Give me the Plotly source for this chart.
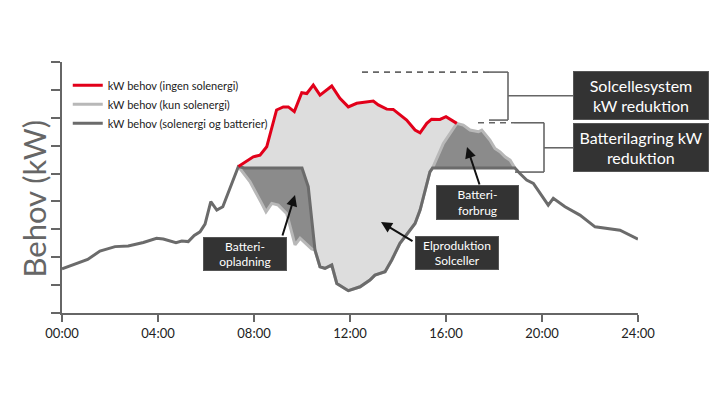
import plotly.graph_objects as go

# ---------------- data (hours, kW units) ----------------
dark_t = [0, 1.07, 1.58, 2.21, 2.76, 3.39, 3.94, 4.22, 4.75, 4.99, 5.26, 5.51, 5.75, 5.96,
          6.20, 6.45, 6.70, 7.35, 7.60, 10.0, 10.26, 10.54, 10.75, 10.96, 11.24, 11.45, 11.93,
          12.42, 12.83, 13.04, 13.46, 13.74, 14.08, 14.36, 14.71, 14.92, 15.13, 15.33, 15.44,
          18.87, 19.08, 19.36, 19.64, 19.99, 20.26, 20.47, 20.96, 21.58, 22.21, 23.25, 24.0]
dark_v = [1.58, 1.92, 2.22, 2.38, 2.40, 2.53, 2.68, 2.65, 2.52, 2.58, 2.56, 2.78, 2.91, 3.19,
          3.99, 3.69, 3.81, 5.25, 5.20, 5.20, 4.53, 2.26, 1.66, 1.60, 1.72, 1.06, 0.80,
          0.94, 1.18, 1.36, 1.48, 1.90, 2.50, 2.80, 3.21, 3.69, 4.41, 5.06, 5.20,
          5.20, 5.00, 4.77, 4.65, 4.23, 3.87, 4.11, 3.81, 3.51, 3.09, 2.97, 2.65]

red_t = [7.35, 7.97, 8.25, 8.53, 8.94, 9.22, 9.43, 9.68, 9.99, 10.20, 10.47, 10.75, 11.24,
         11.58, 11.93, 12.28, 12.97, 13.18, 13.53, 13.80, 14.36, 14.71, 14.92, 15.20, 15.40,
         15.75, 16.00, 16.45]
red_v = [5.25, 5.60, 5.66, 5.96, 7.28, 7.39, 7.39, 7.22, 7.90, 7.87, 8.17, 7.81, 8.14,
         7.70, 7.39, 7.52, 7.60, 7.46, 7.31, 7.30, 6.92, 6.56, 6.46, 6.80, 6.95,
         6.94, 7.04, 6.80]

light_t = [7.35, 7.83, 8.32, 8.50, 8.74, 9.01, 9.36, 9.71, 9.92, 10.40, 10.54, 10.75, 10.96,
           11.24, 11.45, 11.93, 12.42, 12.83, 13.04, 13.46, 13.74, 14.08, 14.36, 14.71, 14.92,
           15.13, 15.33, 15.44, 15.89, 16.45, 16.72, 17.00, 17.35, 17.49, 17.83, 18.04, 18.25,
           18.46, 18.67, 18.87]
light_v = [5.25, 4.71, 3.93, 3.63, 3.93, 3.87, 3.57, 2.44, 2.68, 2.30, 2.26, 1.66, 1.60,
           1.72, 1.06, 0.80, 0.94, 1.18, 1.36, 1.48, 1.90, 2.50, 2.80, 3.21, 3.69,
           4.41, 5.06, 5.20, 6.08, 6.80, 6.74, 6.56, 6.50, 6.56, 6.20, 5.90, 5.78,
           5.60, 5.48, 5.20]

tick_hours = [0, 4, 8, 12, 16, 20, 24]
tick_labels = ["00:00", "04:00", "08:00", "12:00", "16:00", "20:00", "24:00"]

names = ["kW behov (ingen solenergi)", "kW behov (kun solenergi)",
         "kW behov (solenergi og batterier)"]

# ---------------- styles ----------------
RED = "#e2001a"
LIGHT_LINE = "#b8b8b8"
DARK_LINE = "#6b6b6b"
LIGHT_FILL = "#dddddd"
DARK_FILL = "#8b8b8b"
BOX = "#333333"
FONT = "Lato"


def seg(ts, vs, a, b):
    pts = [(t, v) for t, v in zip(ts, vs) if a <= t <= b]
    return [p[0] for p in pts], [p[1] for p in pts]


fig = go.Figure()

# light fill: red line down to the upper of the two other lines
lo_t1, lo_v1 = seg(dark_t, dark_v, 7.35, 15.44)
lo_t2, lo_v2 = seg(light_t, light_v, 15.45, 16.45)
lower_t = lo_t1 + lo_t2
lower_v = lo_v1 + lo_v2
fig.add_trace(go.Scatter(x=red_t + lower_t[::-1], y=red_v + lower_v[::-1], fill="toself",
                         fillcolor=LIGHT_FILL, line=dict(width=0), mode="lines",
                         showlegend=False, hoverinfo="skip"))

# dark fills: between battery line and solar-only line
for a, b in [(7.35, 10.54), (15.44, 18.87)]:
    dt, dv = seg(dark_t, dark_v, a, b)
    lt, lv = seg(light_t, light_v, a, b)
    fig.add_trace(go.Scatter(x=dt + lt[::-1], y=dv + lv[::-1], fill="toself",
                             fillcolor=DARK_FILL, line=dict(width=0), mode="lines",
                             showlegend=False, hoverinfo="skip"))

fig.add_trace(go.Scatter(x=light_t, y=light_v, mode="lines", name=names[1], legendrank=2,
                         line=dict(color=LIGHT_LINE, width=3)))
fig.add_trace(go.Scatter(x=dark_t, y=dark_v, mode="lines", name=names[2], legendrank=3,
                         line=dict(color=DARK_LINE, width=3)))
fig.add_trace(go.Scatter(x=red_t, y=red_v, mode="lines", name=names[0], legendrank=1,
                         line=dict(color=RED, width=3)))


# ---------------- helpers for pixel-based decorations (window pixels) ----------------
def tx(px):
    return (px - 62) / 24.0


def vy(py):
    return (313 - py) / 27.9


def xp(px):
    return (px - 62) / 576.0


def yp(py):
    return (313 - py) / 251.0


shapes = []
def line(x0, y0, x1, y1, dash="solid"):
    shapes.append(dict(type="line", xref="x", yref="y", x0=tx(x0), y0=vy(y0), x1=tx(x1),
                       y1=vy(y1), line=dict(color="#666666", width=1.6, dash=dash)))

# upper bracket
line(362, 72, 489, 72, "6px,5px")
line(489, 72, 508, 72)
line(508, 72, 508, 120)
line(489, 120, 508, 120)
line(508, 95.7, 573, 95.7)
# lower bracket
line(478, 122.7, 514, 122.7, "6px,5px")
line(514, 122.7, 544, 122.7)
line(544, 122.7, 544, 172)
line(515, 172, 544, 172)
line(544, 147.7, 573, 147.7)

# x-axis extension to the left of y axis
shapes.append(dict(type="line", xref="x", yref="y", xsizemode="pixel", xanchor=0,
                   x0=-9, x1=0, y0=0, y1=0, line=dict(color="#666666", width=2)))

annotations = []
def box(text, cx, cy, w, h, size):
    annotations.append(dict(text=text, x=xp(cx), y=yp(cy), xref="paper", yref="paper",
                            xanchor="center", yanchor="middle",
                            showarrow=False, bgcolor=BOX, bordercolor="#555555",
                            borderwidth=1, borderpad=1, width=w - 4, height=h - 4,
                            align="center", valign="middle",
                            font=dict(family=FONT, size=size, color="white")))

def arrow(x0, y0, x1, y1):
    annotations.append(dict(text="", x=tx(x1), y=vy(y1), ax=tx(x0), ay=vy(y0),
                            xref="x", yref="y", axref="x", ayref="y", showarrow=True,
                            arrowhead=2, arrowsize=1.1, arrowwidth=2, arrowcolor="#111111"))

arrow(282, 237, 295, 195)
arrow(414, 242, 381, 222)
arrow(480, 186, 467, 147)

box("Solcellesystem<br>kW reduktion", 641, 95.5, 136, 49, 16)
box("Batterilagring kW<br>reduktion", 641, 147.5, 136, 49, 16)
box("Batteri-<br>opladning", 245, 253.7, 84, 34, 12)
box("Elproduktion<br>Solceller", 457, 253, 84, 34, 12)
box("Batteri-<br>forbrug", 477.5, 202.5, 83, 35, 12)

annotations.append(dict(text="Behov (kW)", x=xp(33), xref="paper", y=yp(198.5), yref="paper",
                        xanchor="center", yanchor="middle",
                        textangle=-90, showarrow=False,
                        font=dict(family=FONT, size=31, color="#666666")))

# page body adds an 8px margin, so the figure is 712x392 and shifted accordingly
fig.update_layout(
    width=712, height=392,
    margin=dict(l=54, r=82, t=54, b=87, autoexpand=False),
    paper_bgcolor="white", plot_bgcolor="white",
    font=dict(family=FONT, color="#222222"),
    showlegend=True,
    legend=dict(x=0.01, y=0.965, xanchor="left", yanchor="top", bgcolor="rgba(0,0,0,0)",
                font=dict(family=FONT, size=11, color="#222222"), tracegroupgap=0),
    shapes=shapes, annotations=annotations,
)
fig.update_xaxes(range=[0, 24], tickvals=tick_hours, ticktext=tick_labels, showgrid=False,
                 zeroline=False, showline=True, linecolor="#666666", linewidth=2,
                 ticks="outside", ticklen=7, tickwidth=2, tickcolor="#666666",
                 tickfont=dict(family=FONT, size=13, color="#222222"))
fig.update_yaxes(range=[0, 9], tick0=0, dtick=1, showticklabels=False, showgrid=False,
                 zeroline=False, showline=True, linecolor="#666666", linewidth=2,
                 ticks="outside", ticklen=9, tickwidth=2, tickcolor="#666666")

fig.write_html("out.html")
